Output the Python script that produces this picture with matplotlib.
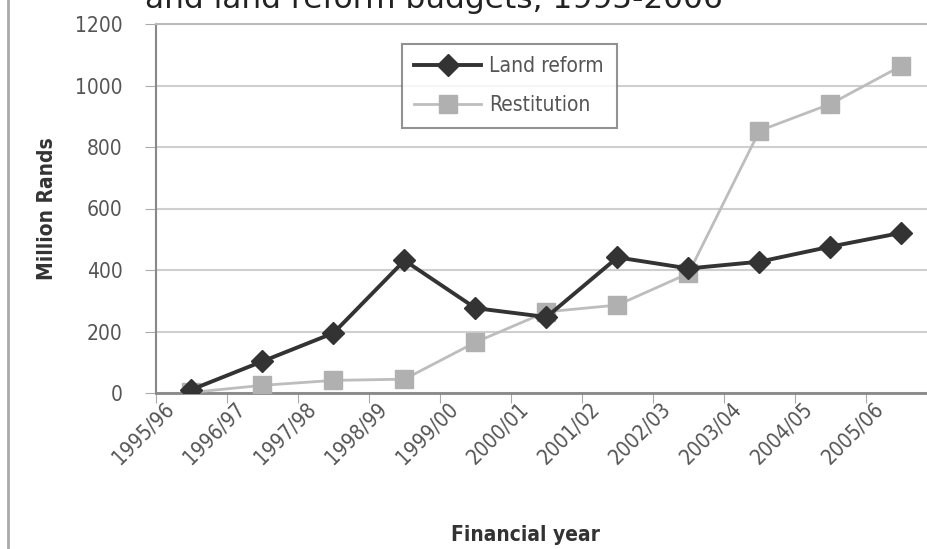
import matplotlib.pyplot as plt
import matplotlib.transforms as mtransforms
from matplotlib.lines import Line2D
from matplotlib import font_manager

years = ["1995/96", "1996/97", "1997/98", "1998/99", "1999/00", "2000/01",
         "2001/02", "2002/03", "2003/04", "2004/05", "2005/06"]
land_reform = [11, 103, 195, 431, 276, 247, 441, 405, 427, 476, 521]
restitution = [2, 25, 41, 45, 165, 264, 286, 389, 853, 940, 1064]
y_ticks = [0, 200, 400, 600, 800, 1000, 1200]

fp = font_manager.FontProperties(family="DejaVu Sans", stretch="condensed", size=15)
fpb = font_manager.FontProperties(family="DejaVu Sans", stretch="condensed", size=15, weight="bold")

fig = plt.figure(figsize=(9.28, 5.49), dpi=100)
ax = fig.add_axes([156 / 928, 156 / 549, 781 / 928, 369 / 549])

x = list(range(len(years)))
ax.plot(x, restitution, color="#bdbdbd", lw=2, marker="s", ms=13,
        mfc="#b0b0b0", mec="#b0b0b0", label="Restitution", zorder=3)
ax.plot(x, land_reform, color="#333333", lw=2.8, marker="D", ms=11,
        mfc="#333333", mec="#333333", label="Land reform", zorder=4)

ax.set_xlim(-0.5, len(years) - 0.5)
ax.set_ylim(0, 1200)
ax.set_yticks(y_ticks)
ax.set_yticklabels([str(v) for v in y_ticks], fontproperties=fp, color="#555555")
ax.yaxis.grid(True, color="#cfcfcf", lw=1.5)
ax.set_axisbelow(True)

# ticks between categories, labels at the category centres
ax.set_xticks([i - 0.5 for i in range(len(years) + 1)])
ax.set_xticklabels([])
ax.set_xticks(x, minor=True)
ax.set_xticklabels(years, minor=True, rotation=45, ha="right", va="top",
                   fontproperties=fp, color="#555555")
ax.tick_params(axis="x", which="minor", length=0, pad=4)
ax.tick_params(axis="x", which="major", length=7, color="#aaaaaa", direction="out")
ax.tick_params(axis="y", length=8, color="#aaaaaa", pad=16)
off = mtransforms.ScaledTranslation(-14 / 100, 0, fig.dpi_scale_trans)
for lab in ax.get_xticklabels(minor=True):
    lab.set_transform(lab.get_transform() + off)

ax.spines["right"].set_visible(False)
ax.spines["top"].set_color("#bbbbbb")
ax.spines["top"].set_linewidth(1.5)
ax.spines["left"].set_color("#888888")
ax.spines["left"].set_linewidth(1.5)
ax.spines["bottom"].set_color("#888888")
ax.spines["bottom"].set_linewidth(2)

ax.set_ylabel("Million Rands", fontproperties=fpb, color="#333333")
ax.yaxis.set_label_coords(-0.127, 0.5)
ax.set_xlabel("Financial year", fontproperties=fpb, color="#333333")
ax.xaxis.label.set_va("center")
ax.xaxis.set_label_coords(0.4725, -0.385)

handles = [Line2D([], [], color="#333333", lw=2.8, marker="D", ms=11),
           Line2D([], [], color="#bdbdbd", lw=2, marker="s", ms=13,
                  mfc="#b0b0b0", mec="#b0b0b0")]
leg = ax.legend(handles, ["Land reform", "Restitution"], loc="upper left",
                bbox_to_anchor=((402 - 156) / 781, (393 - 44) / 369), borderaxespad=0,
                frameon=True, fancybox=False, prop=fp, handlelength=3.2,
                handletextpad=0.4, labelspacing=0.9, borderpad=0.6, edgecolor="#777777")
leg.get_frame().set_linewidth(1.5)
for t in leg.get_texts():
    t.set_color("#555555")

fig.text(0.468, 1.0, "and land reform budgets, 1995-2006", ha="center", va="center",
         fontsize=22.5, color="#222222")
fig.add_artist(Line2D([8 / 928, 8 / 928], [0, 1], color="#aaaaaa", lw=2))

fig.savefig("out.png", dpi=100)
